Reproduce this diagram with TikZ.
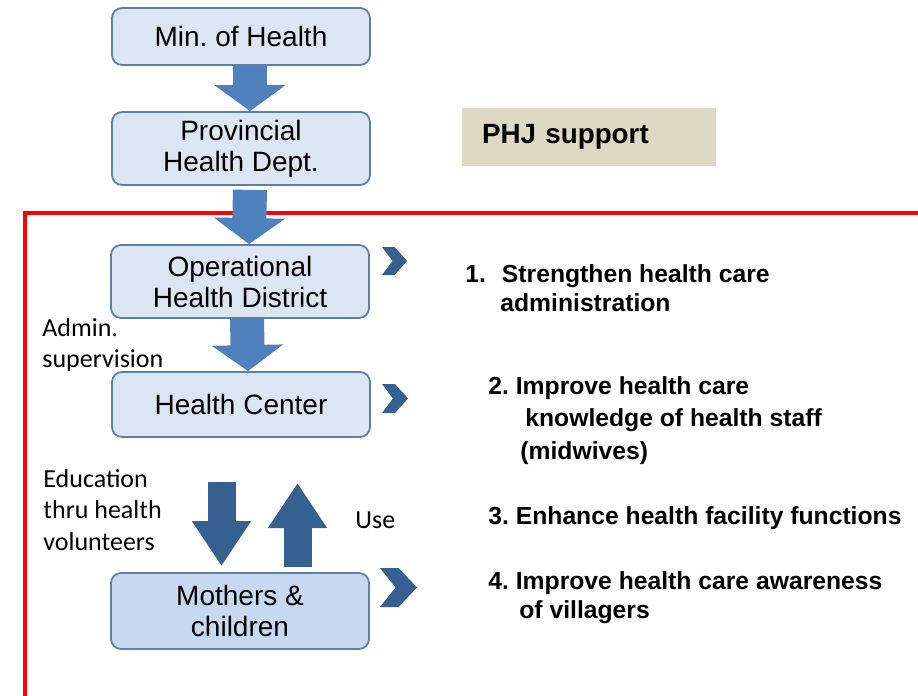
\documentclass[tikz,border=0pt]{standalone}
\usepackage{fontspec}
\setmainfont{Liberation Sans}
\newfontfamily\calfont{Carlito}
\usetikzlibrary{arrows.meta}
\frenchspacing
\definecolor{boxfill}{HTML}{DCE6F2}
\definecolor{momfill}{HTML}{C6D9F1}
\definecolor{boxline}{HTML}{5E7FA8}
\definecolor{arrowblue}{HTML}{4F81BD}
\definecolor{darkblue}{HTML}{36608F}
\definecolor{phjfill}{HTML}{DDD9C3}
\def\chevron[#1](#2)(#3:#4)% Syntax: [fill options] (top left) (width:height)
{ \fill[#1] (#2) -- ++({0.5*#3},0) -- ++({0.5*#3},{0.5*#4}) -- ++({-0.5*#3},{0.5*#4}) -- ++({-0.5*#3},0) -- ++({0.42*#3},{-0.5*#4}) -- cycle; }
\tikzset{
	box/.style={draw=boxline, line width=0.9pt, fill=boxfill, rounded corners=5pt, minimum width=129pt, align=center, inner sep=0pt, font=\fontsize{14}{15.5}\selectfont},
	bigarrow/.style={draw=arrowblue, line width=17pt, -{Triangle[width=35pt,length=13pt]}},
	darkarrow/.style={draw=darkblue, line width=14pt, -{Triangle[width=28pt,length=22.5pt]}},
	phj/.style={fill=phjfill, text width=107pt, inner xsep=10pt, minimum height=29pt, font=\fontsize{13.9}{16}\selectfont\bfseries},
	item/.style={anchor=base west, inner sep=0pt, font=\fontsize{12.35}{15}\selectfont\bfseries},
	note/.style={anchor=base west, inner sep=0pt, font=\calfont\fontsize{13}{15.5}\selectfont}
}
\begin{document}
\begin{tikzpicture}[x=0.5pt,y=-0.5pt]
	\useasboundingbox (0,0) rectangle (918,696);
	\draw[red, line width=2.2pt] (918,213) -- (25,213) -- (25,696);
	%
	\node[box, minimum height=28.5pt] (moh) at (241,36.5) {Min. of Health};
	\node[box, minimum height=36.5pt] (phd) at (241,148.5) {Provincial\\Health Dept.};
	\node[box, minimum height=36.5pt] (ohd) at (240,281.5) {Operational\\Health District};
	\node[box, minimum height=32.5pt] (hc) at (241,404.5) {Health Center};
	\node[box, fill=momfill, minimum height=38pt] (mc) at (240,611) {Mothers \&\\children};
	%
	\draw[bigarrow] ([xshift=4.5pt]moh.south) -- ([xshift=4.5pt]phd.north);
	\draw[bigarrow, shorten <=2pt] ([xshift=4.5pt]phd.south) -- ([xshift=4.5pt]ohd.north);
	\draw[bigarrow] ([xshift=3.5pt]ohd.south) -- ([xshift=3.5pt]hc.north);
	%
	\coordinate (edutop) at (221.5,482);
	\coordinate (usetop) at (297.5,483);
	\draw[darkarrow, shorten >=3pt] (edutop) -- (mc.north -| edutop);
	\draw[darkarrow, shorten <=2.5pt] (mc.north -| usetop) -- (usetop);
	%
	\chevron[darkblue](382,247)(25:28)
	\chevron[darkblue](382,384)(26:29)
	\chevron[darkblue](380,568)(37:39)
	%
	\node[note] (adm1) at (42,336) {Admin.};
	\node[note] (adm2) at (42,367) {supervision};
	\node[note] (edu1) at (43,487) {Education};
	\node[note] (edu2) at (43,518) {thru health};
	\node[note] (edu3) at (43,550) {volunteers};
	\node[note] (use) at (355,528) {Use};
	%
	\node[phj] (phj) at (589,137) {PHJ support};
	%
	\node[item] (i1a) at (465,282) {1.\hspace{8pt}Strengthen health care};
	\node[item] (i1b) at (500,311) {administration};
	\node[item] (i2a) at (488,394) {2. Improve health care};
	\node[item] (i2b) at (525,426) {knowledge of health staff};
	\node[item] (i2c) at (520,459) {(midwives)};
	\node[item] (i3a) at (488,524) {3. Enhance health facility functions};
	\node[item] (i4a) at (488,589) {4. Improve health care awareness};
	\node[item] (i4b) at (519,618) {of villagers};
\end{tikzpicture}
\end{document}
